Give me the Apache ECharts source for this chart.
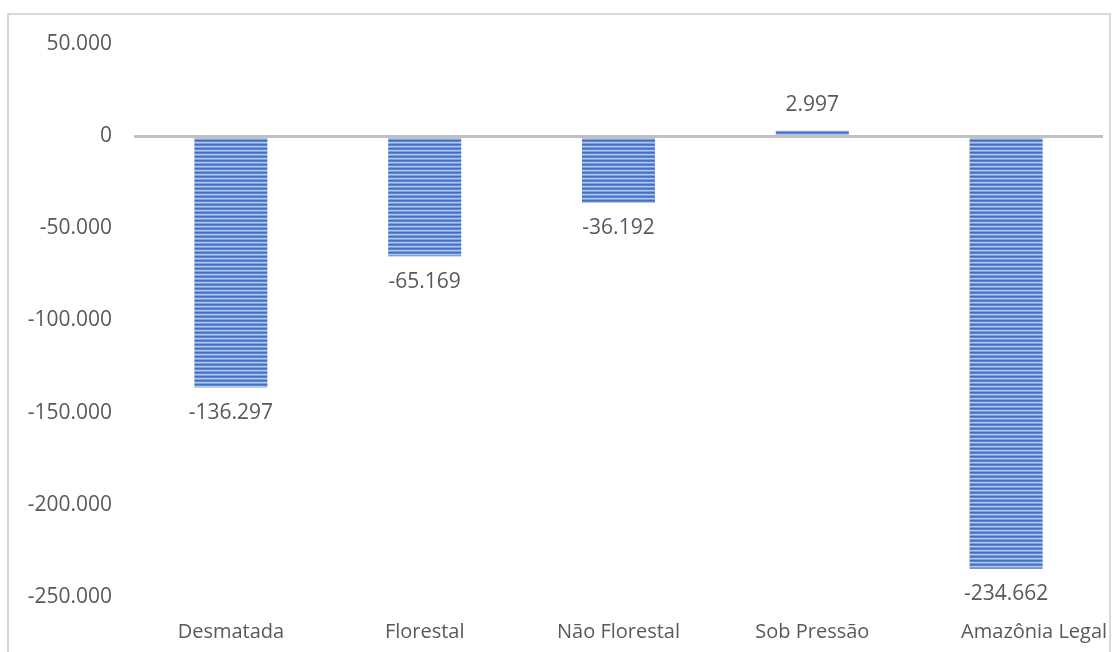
<!DOCTYPE html>
<html>
<head>
<meta charset="utf-8">
<script src="https://cdn.jsdelivr.net/npm/echarts@6/dist/echarts.min.js"></script>
<style>
  html, body { margin: 0; padding: 0; background: #ffffff; }
  #chart { width: 1118px; height: 652px; }
</style>
</head>
<body>
<div id="chart"></div>
<script>
// Variação de área por classe (valores em unidades, separador de milhar ".")
const categories = ['Desmatada', 'Florestal', 'Não Florestal', 'Sob Pressão', 'Amazônia Legal'];
const values = [-136297, -65169, -36192, 2997, -234662];
const yTicks = { min: -250000, max: 50000, interval: 50000 };

// Thousands separator in pt-BR style
function fmt(v) {
  const s = Math.abs(Math.round(v)).toString().replace(/\B(?=(\d{3})+(?!\d))/g, '.');
  return (v < 0 ? '-' : '') + s;
}

// Horizontal stripe fill for the bars
const stripe = document.createElement('canvas');
stripe.width = 4;
stripe.height = 4;
const ctx = stripe.getContext('2d');
['#4070c4', '#5f86d0', '#b3c6ea', '#7e9edb'].forEach((c, i) => {
  ctx.fillStyle = c;
  ctx.fillRect(0, i, 4, 1);
});

const textColor = '#595959';
const fontFamily = '"Open Sans", "Noto Sans", sans-serif';
const fontSize = 21;

const chart = echarts.init(document.getElementById('chart'), null, { renderer: 'canvas' });
chart.setOption({
  animation: false,
  backgroundColor: '#ffffff',
  graphic: [{
    type: 'rect',
    shape: { x: 8, y: 14, width: 1102, height: 660 },
    style: { fill: 'none', stroke: '#d9d9d9', lineWidth: 2 },
    silent: true
  }],
  grid: { left: 134, right: 15, top: 44, bottom: 55 },
  xAxis: {
    type: 'category',
    data: categories,
    axisLine: { show: false, onZero: false },
    axisTick: { show: false },
    axisLabel: {
      interval: 0,
      color: textColor, fontFamily: fontFamily, fontSize: 20, margin: 25,
      // the last category label sits pushed toward the right edge
      formatter: (v, i) => i === categories.length - 1 ? '{end|' + v + '}' : v,
      rich: {
        end: { color: textColor, fontFamily: fontFamily, fontSize: 20, padding: [0, 0, 0, 56] }
      }
    }
  },
  yAxis: {
    type: 'value',
    min: yTicks.min,
    max: yTicks.max,
    interval: yTicks.interval,
    splitLine: { show: false },
    axisLine: { show: false },
    axisTick: { show: false },
    axisLabel: {
      color: textColor, fontFamily: fontFamily, fontSize: fontSize, margin: 22,
      formatter: fmt
    }
  },
  series: [{
    type: 'bar',
    barWidth: 73,
    data: values.map(v => ({
      value: v,
      label: { position: v < 0 ? 'bottom' : 'top' }
    })),
    itemStyle: { color: { image: stripe, repeat: 'repeat' } },
    label: {
      show: true,
      distance: 15,
      color: textColor,
      fontFamily: fontFamily,
      fontSize: fontSize,
      formatter: p => fmt(p.value)
    },
    markLine: {
      silent: true,
      symbol: 'none',
      label: { show: false },
      lineStyle: { color: '#c0c0c0', width: 3, type: 'solid' },
      data: [{ yAxis: 0 }]
    }
  }]
});
</script>
</body>
</html>
